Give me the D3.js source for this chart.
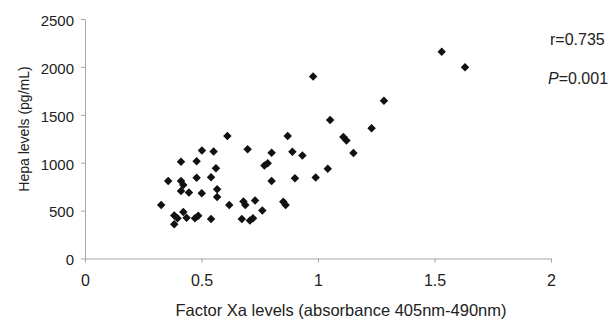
<!DOCTYPE html>
<html>
<head>
<meta charset="utf-8">
<script src="https://cdn.jsdelivr.net/npm/d3@7"></script>
<style>
  body { margin: 0; background: #fff; }
  text { font-family: "Liberation Sans", Arial, sans-serif; fill: #222; }
</style>
</head>
<body>
<script>
let width = 615,
    height = 320;

let margin = {
  top: 19,
  left: 85,
  right: 64,
  bottom: 61.5
};

// factor Xa absorbance vs hepa levels
let factorXa = [0.327, 0.357, 0.383, 0.397, 0.383, 0.422, 0.436, 0.412, 0.412, 0.422,
                0.412, 0.446, 0.472, 0.486, 0.479, 0.479, 0.502, 0.501, 0.541, 0.541,
                0.552, 0.562, 0.567, 0.567, 0.611, 0.619, 0.673, 0.680, 0.688, 0.698,
                0.708, 0.721, 0.730, 0.761, 0.770, 0.784, 0.801, 0.801, 0.851, 0.861,
                0.870, 0.890, 0.901, 0.933, 0.979, 0.990, 1.042, 1.052, 1.109, 1.122,
                1.152, 1.230, 1.283, 1.531, 1.631];
let hepa = [558, 809, 449, 420, 358, 485, 426, 1010, 809, 767,
            705, 689, 420, 446, 1015, 843, 1127, 681, 848, 412,
            1117, 942, 723, 642, 1279, 558, 412, 595, 558, 1140,
            397, 420, 605, 501, 971, 994, 1104, 809, 593, 558,
            1279, 1115, 837, 1075, 1900, 845, 937, 1446, 1268, 1232,
            1101, 1359, 1647, 2159, 1996];

let xTicks = [0, 0.5, 1, 1.5, 2];
let yTicks = [0, 500, 1000, 1500, 2000, 2500];
let stats = ["r=0.735", "=0.001"];

let data = factorXa.map((v, i) => ({ x: v, y: hepa[i] }));

let w = width - margin.left - margin.right,
    h = height - margin.top - margin.bottom;

let svg = d3.select("body")
    .append("svg")
    .attr("width", width)
    .attr("height", height)
    .append("g")
    .attr("transform", "translate(" + margin.left + "," + margin.top + ")");

let x = d3.scaleLinear()
    .domain([0, 2])
    .range([0, w]);

let y = d3.scaleLinear()
    .domain([0, 2500])
    .range([h, 0]);

let xAxis = svg.append("g")
    .attr("transform", "translate(0," + h + ")")
    .call(d3.axisBottom(x).tickValues(xTicks).tickSize(4).tickSizeOuter(0)
        .tickFormat(d => d));

xAxis.selectAll("text")
    .attr("y", 27)
    .attr("dy", 0)
    .style("font-size", "16px");

let yAxis = svg.append("g")
    .call(d3.axisLeft(y).tickValues(yTicks).tickSize(4).tickSizeOuter(0)
        .tickFormat(d3.format("d")));

yAxis.selectAll("text")
    .attr("x", -11)
    .attr("dy", "0.42em")
    .style("font-size", "15px");

svg.selectAll(".domain, .tick line")
    .attr("stroke", "#a6a6a6");
svg.selectAll(".tick text").attr("fill", "#222");

// diamonds
svg.selectAll(".pt")
    .data(data)
    .enter()
    .append("path")
    .attr("class", "pt")
    .attr("d", d3.symbol().type(d3.symbolSquare).size(36))
    .attr("transform", d => "translate(" + x(d.x) + "," + y(d.y) + ") rotate(45)")
    .attr("fill", "#111");

svg.append("text")
    .attr("x", 341 - margin.left)
    .attr("y", 316 - margin.top)
    .style("text-anchor", "middle")
    .style("font-size", "16.5px")
    .text("Factor Xa levels (absorbance 405nm-490nm)");

svg.append("text")
    .attr("transform", "translate(" + (28.5 - margin.left) + "," + (129 - margin.top) + ") rotate(-90)")
    .style("text-anchor", "middle")
    .style("font-size", "14px")
    .text("Hepa levels (pg/mL)");

svg.append("text")
    .attr("x", 550 - margin.left)
    .attr("y", 45 - margin.top)
    .style("font-size", "16px")
    .text(stats[0]);

let pText = svg.append("text")
    .attr("x", 548 - margin.left)
    .attr("y", 83.5 - margin.top)
    .style("font-size", "16px");
pText.append("tspan").style("font-style", "italic").text("P");
pText.append("tspan").text(stats[1]);
</script>
</body>
</html>
